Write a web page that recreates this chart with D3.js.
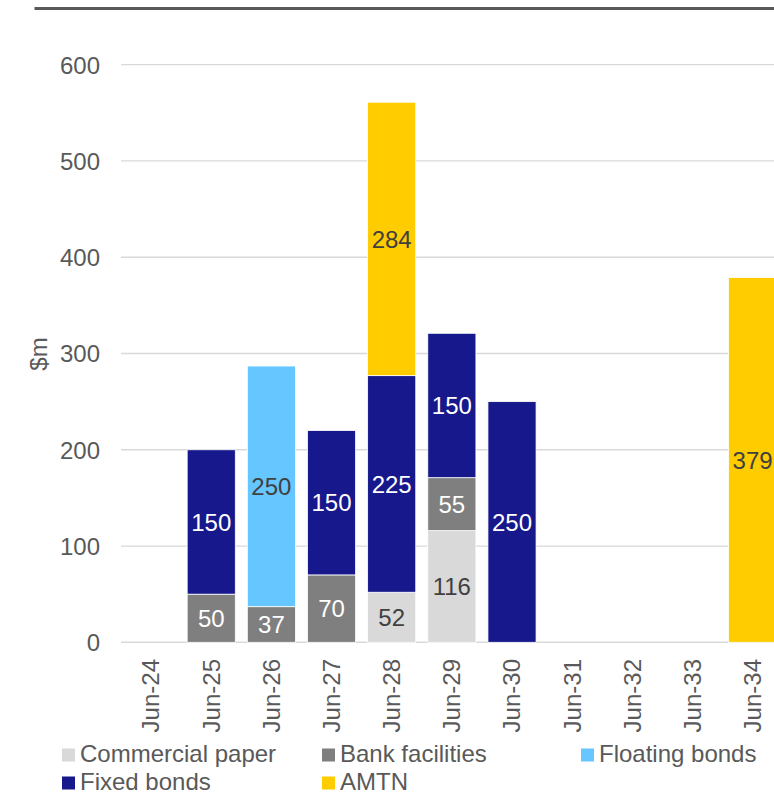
<!DOCTYPE html>
<html>
<head>
<meta charset="utf-8">
<script src="https://cdn.jsdelivr.net/npm/d3@7"></script>
<style>
  html, body { margin: 0; padding: 0; background: #fff; }
  svg { display: block; }
  text { font-family: "Liberation Sans", Arial, sans-serif; }
</style>
</head>
<body>
<svg id="chart" width="774" height="795"></svg>
<script>
const categories = ["Jun-24","Jun-25","Jun-26","Jun-27","Jun-28","Jun-29","Jun-30","Jun-31","Jun-32","Jun-33","Jun-34"];
const seriesNames = ["Commercial paper","Bank facilities","Floating bonds","Fixed bonds","AMTN"];
const commercialPaper = [0, 0, 0, 0, 52, 116, 0, 0, 0, 0, 0];
const bankFacilities  = [0, 50, 37, 70, 0, 55, 0, 0, 0, 0, 0];
const floatingBonds   = [0, 0, 250, 0, 0, 0, 0, 0, 0, 0, 0];
const fixedBonds      = [0, 150, 0, 150, 225, 150, 250, 0, 0, 0, 0];
const amtn            = [0, 0, 0, 0, 284, 0, 0, 0, 0, 0, 379];
const yTicks = [0, 100, 200, 300, 400, 500, 600];

const seriesValues = [commercialPaper, bankFacilities, floatingBonds, fixedBonds, amtn];
const colors = ["#D9D9D9", "#7F7F7F", "#66C6FF", "#16188C", "#FFCC00"];
const labelColors = ["#404040", "#FFFFFF", "#404040", "#FFFFFF", "#404040"];

const svg = d3.select("#chart");
const fs = 24;

// top rule
svg.append("line").attr("x1", 34.5).attr("x2", 774).attr("y1", 8.5).attr("y2", 8.5)
  .attr("stroke", "#595959").attr("stroke-width", 3);

const x = d3.scaleBand().domain(categories).range([121, 782.7]).paddingInner(0.2).paddingOuter(0.1);
const y = d3.scaleLinear().domain([0, 600]).range([642.3, 64.7]);

// gridlines
svg.append("g").selectAll("line").data(yTicks).join("line")
  .attr("x1", 121).attr("x2", 782.7)
  .attr("y1", d => y(d)).attr("y2", d => y(d))
  .attr("stroke", "#D9D9D9").attr("stroke-width", d => d === 0 ? 1.6 : 1.3);

// y axis labels
const yAxis = d3.axisLeft(y).tickValues(yTicks).tickSize(0).tickPadding(0);
const yg = svg.append("g").attr("transform", "translate(100,0)").call(yAxis);
yg.select(".domain").remove();
yg.selectAll("text").attr("font-size", fs).attr("fill", "#595959")
  .attr("font-family", "Liberation Sans, Arial, sans-serif").attr("dy", "0.35em");

// y axis title
svg.append("text").attr("transform", "translate(47,354) rotate(-90)")
  .attr("text-anchor", "middle").attr("font-size", fs).attr("fill", "#595959").text("$m");

// stacked data
const table = categories.map((c, i) => {
  const o = { cat: c };
  seriesNames.forEach((s, j) => o[s] = seriesValues[j][i]);
  return o;
});
const stacked = d3.stack().keys(seriesNames)(table);

const layers = svg.append("g").selectAll("g").data(stacked).join("g")
  .attr("fill", (d, i) => colors[i]);
layers.selectAll("rect").data(d => d.filter(p => p[1] - p[0] > 0)).join("rect")
  .attr("x", d => x(d.data.cat))
  .attr("width", x.bandwidth())
  .attr("y", d => y(d[1]))
  .attr("height", d => y(d[0]) - y(d[1]))
  .attr("stroke", "#FFFFFF").attr("stroke-width", 0.8);

// labels
stacked.forEach((layer, i) => {
  svg.append("g").selectAll("text").data(layer.filter(p => p[1] - p[0] > 0)).join("text")
    .attr("x", d => x(d.data.cat) + x.bandwidth() / 2)
    .attr("y", d => (y(d[0]) + y(d[1])) / 2)
    .attr("dy", "0.36em")
    .attr("text-anchor", "middle")
    .attr("font-size", fs)
    .attr("fill", labelColors[i])
    .text(d => d[1] - d[0]);
});

// x axis labels
const xAxis = d3.axisBottom(x).tickSize(0).tickPadding(0);
const xg = svg.append("g").attr("transform", "translate(0,659)").call(xAxis);
xg.select(".domain").remove();
xg.selectAll("text")
  .attr("font-size", fs).attr("fill", "#595959")
  .attr("font-family", "Liberation Sans, Arial, sans-serif")
  .attr("text-anchor", "end")
  .attr("transform", "rotate(-90)")
  .attr("x", 0).attr("y", 0).attr("dy", "0.35em");

// legend
const legendPos = [[62, 762], [322, 762], [581, 762], [62, 790], [322, 790]];
const lg = svg.append("g").selectAll("g").data(seriesNames).join("g")
  .attr("transform", (d, i) => `translate(${legendPos[i][0]},${legendPos[i][1]})`);
lg.append("rect").attr("x", 0).attr("y", -13.5).attr("width", 13).attr("height", 13)
  .attr("fill", (d, i) => colors[i]);
lg.append("text").attr("x", 18).attr("y", 0)
  .attr("font-size", fs).attr("fill", "#595959").text(d => d);
</script>
</body>
</html>
